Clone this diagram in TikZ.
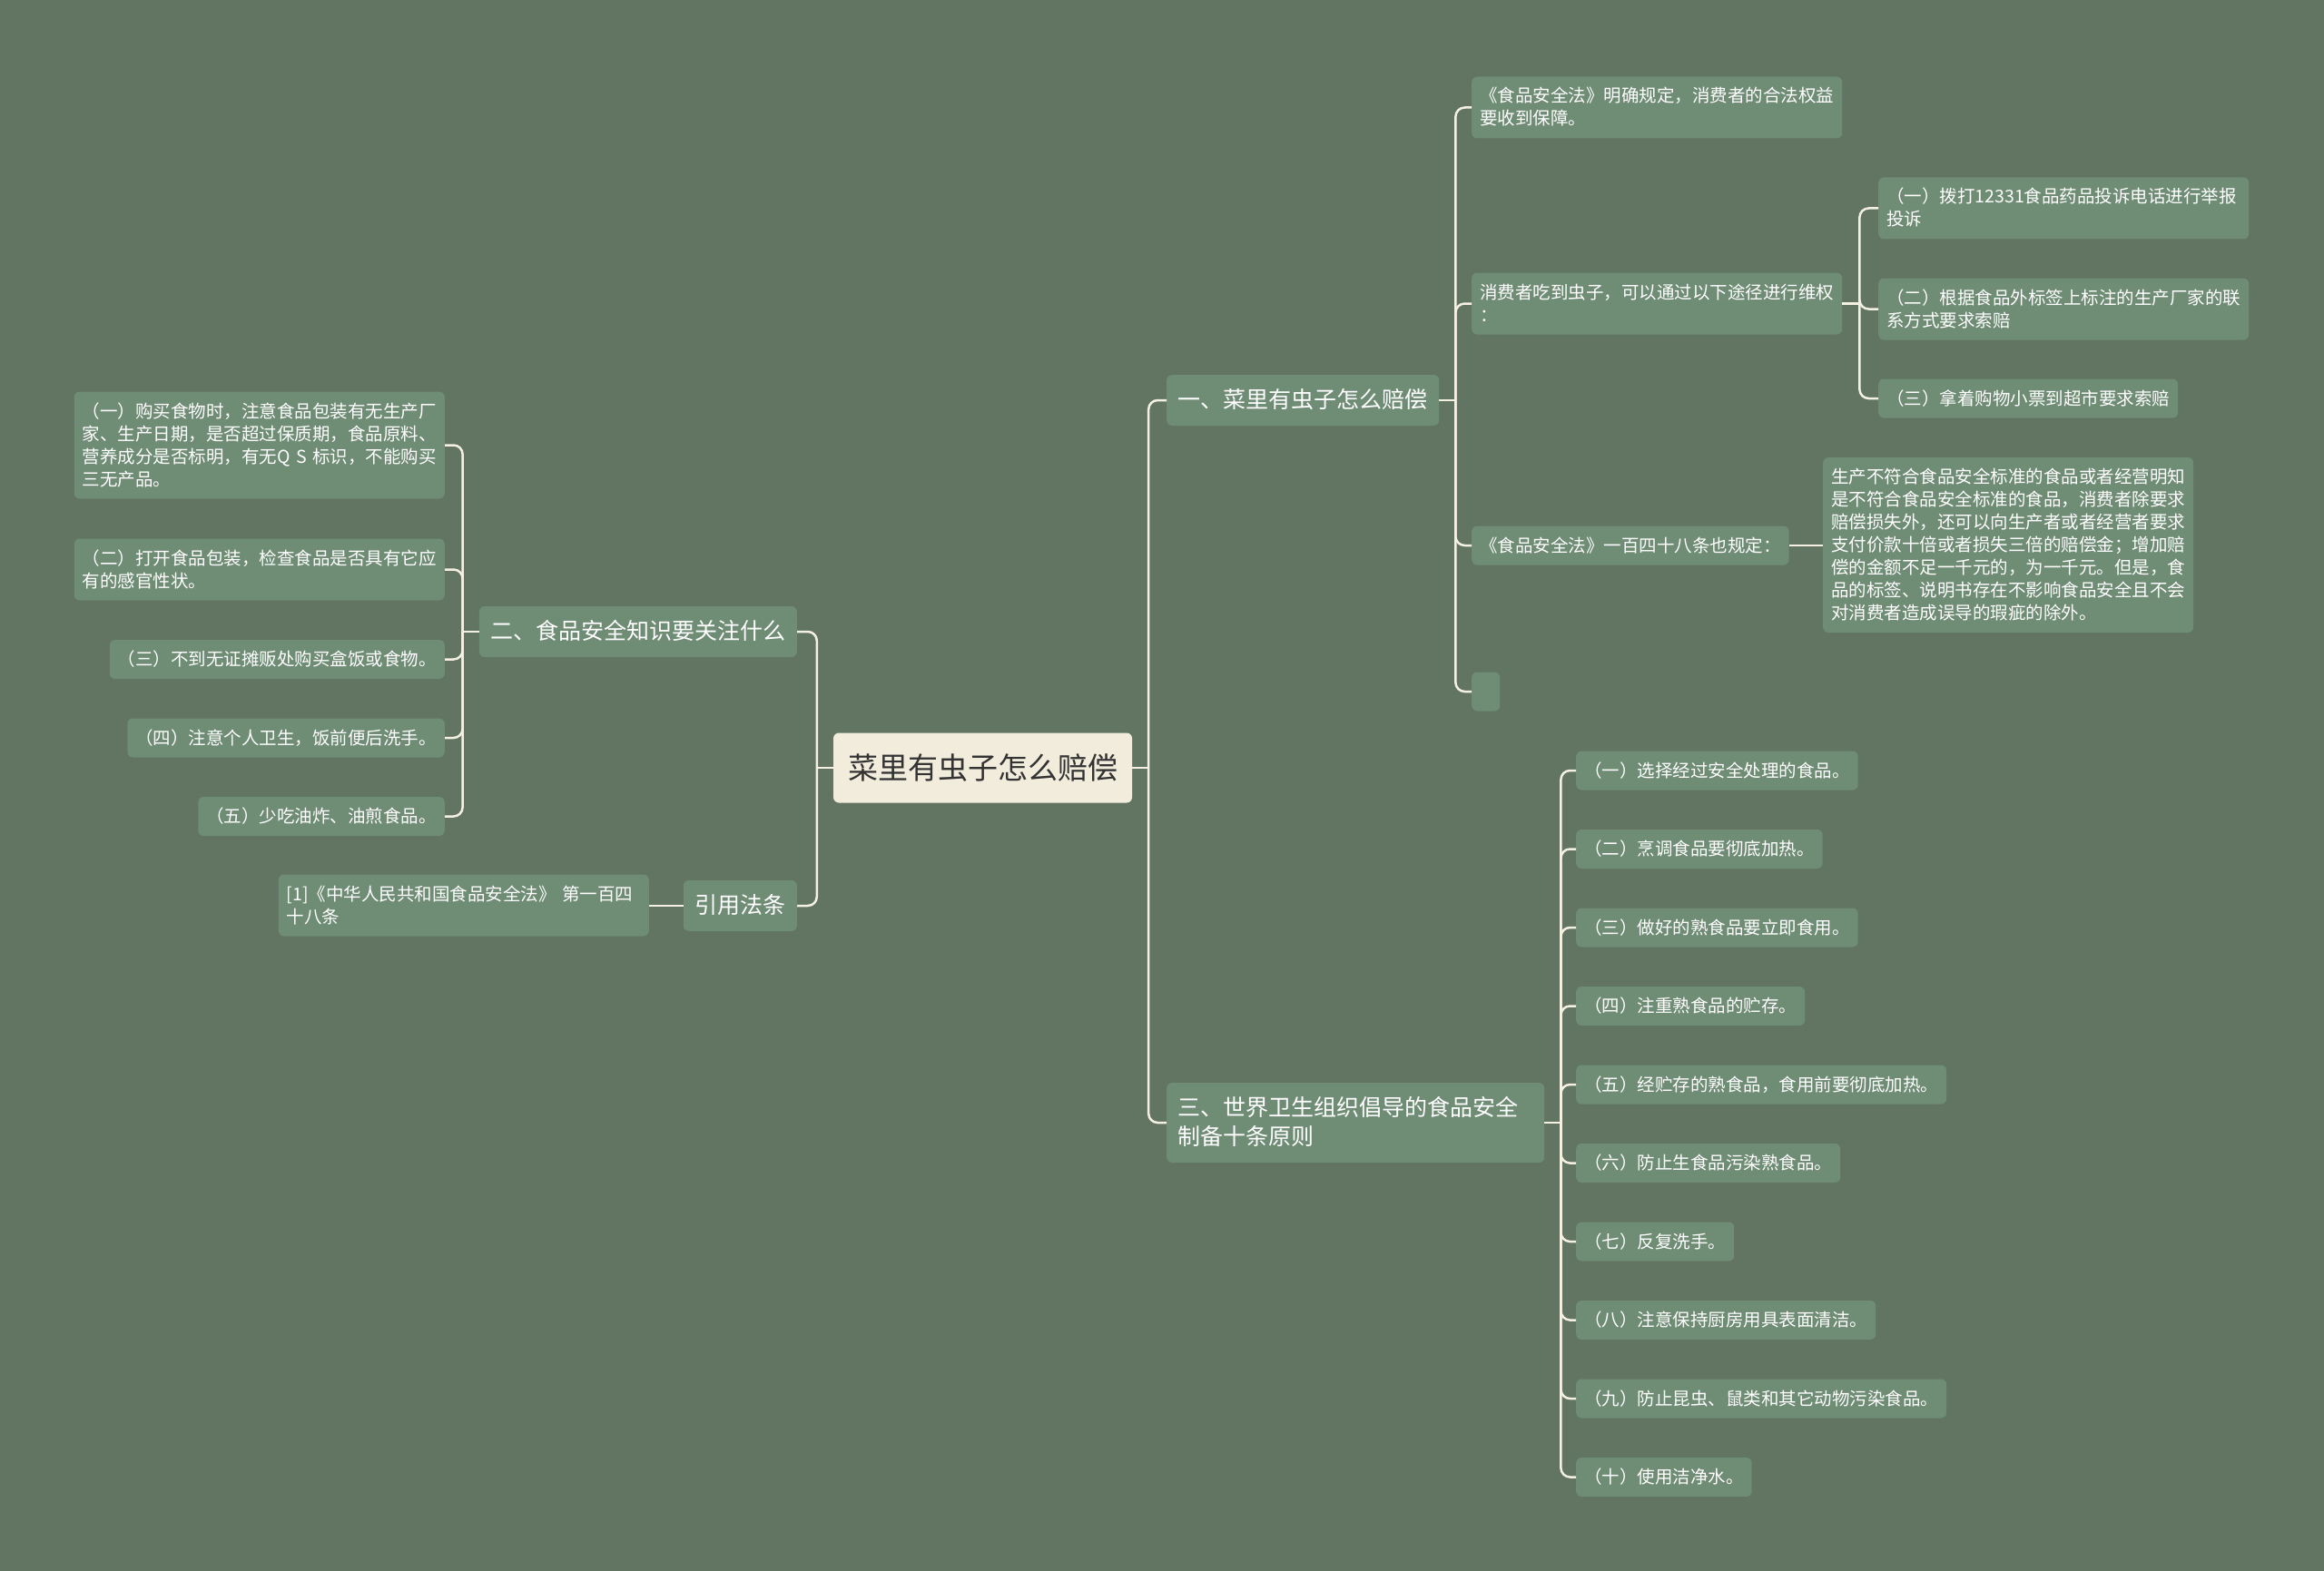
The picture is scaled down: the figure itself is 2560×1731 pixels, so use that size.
\documentclass[tikz,border=0pt]{standalone}
\usepackage{fontspec}
\newfontfamily\cjk{Noto Sans CJK SC}
\definecolor{bg}{HTML}{617562}
\definecolor{boxfill}{HTML}{6F8C75}
\definecolor{rootfill}{HTML}{F1ECDC}
\definecolor{roottext}{HTML}{333333}
\definecolor{linecol}{HTML}{F4F0E2}
\newcommand\vstrut{\rule[-0.22\baselineskip]{0pt}{\baselineskip}}

\begin{document}
\begin{tikzpicture}[x=1pt, y=-1pt,
  root/.style={fill=rootfill, text=roottext, rounded corners=6pt, inner xsep=16pt, inner ysep=17pt,
    font=\cjk\fontsize{33}{43}\selectfont, execute at begin node=\vstrut, execute at end node=\vstrut},
  topic/.style={fill=boxfill, text=white, rounded corners=6pt, inner xsep=12.5pt, inner ysep=12pt,
    font=\cjk\fontsize{25}{32}\selectfont, execute at begin node=\vstrut, execute at end node=\vstrut},
  leaf/.style={fill=boxfill, text=white, rounded corners=6pt, inner xsep=9pt, inner ysep=9pt,
    font=\cjk\fontsize{19.5}{25}\selectfont, execute at begin node=\vstrut, execute at end node=\vstrut},
  wide/.style={text width=390pt, align=left},
  link/.style={draw=linecol, line width=2.5pt, rounded corners=10pt}]
\fill[bg] (0,0) rectangle (2560,1731);
\useasboundingbox (0,0) rectangle (2560,1731);

% centre and main topics
\node[root] (R) at (1082.5,846) {菜里有虫子怎么赔偿};
\node[topic, anchor=west] (T1) at (1285,441) {一、菜里有虫子怎么赔偿};
\node[topic, anchor=west, text width=391pt, align=left] (T3) at (1285,1237) {三、世界卫生组织倡导的食品安全\\制备十条原则};
\node[topic, anchor=east] (T2) at (878,696) {二、食品安全知识要关注什么};
\node[topic, anchor=east] (T4) at (878,998) {引用法条};

% topic one
\node[leaf, wide, anchor=west] (A1) at (1621,118.5) {《食品安全法》明确规定，消费者的合法权益\\要收到保障。};
\node[leaf, wide, anchor=west] (A2) at (1621,334.5) {消费者吃到虫子，可以通过以下途径进行维权\\：};
\node[leaf, anchor=west] (A3) at (1621,601) {《食品安全法》一百四十八条也规定：};
\node[leaf, anchor=west, minimum width=31pt] (A4) at (1621,762) {};
\node[leaf, wide, anchor=west] (B1) at (2069,229.5) {（一）拨打12331食品药品投诉电话进行举报\\投诉};
\node[leaf, wide, anchor=west] (B2) at (2069,340.5) {（二）根据食品外标签上标注的生产厂家的联\\系方式要求索赔};
\node[leaf, anchor=west] (B3) at (2069,439) {（三）拿着购物小票到超市要求索赔};
\node[leaf, wide, anchor=west] (C1) at (2008,600.5) {生产不符合食品安全标准的食品或者经营明知\\是不符合食品安全标准的食品，消费者除要求\\赔偿损失外，还可以向生产者或者经营者要求\\支付价款十倍或者损失三倍的赔偿金；增加赔\\偿的金额不足一千元的，为一千元。但是，食\\品的标签、说明书存在不影响食品安全且不会\\对消费者造成误导的瑕疵的除外。};

% topic two
\node[leaf, wide, anchor=east] (L1) at (490,490.5) {（一）购买食物时，注意食品包装有无生产厂\\家、生产日期，是否超过保质期，食品原料、\\营养成分是否标明，有无Q~S~标识，不能购买\\三无产品。};
\node[leaf, wide, anchor=east] (L2) at (490,627.5) {（二）打开食品包装，检查食品是否具有它应\\有的感官性状。};
\node[leaf, anchor=east] (L3) at (490,726.5) {（三）不到无证摊贩处购买盒饭或食物。};
\node[leaf, anchor=east] (L4) at (490,813) {（四）注意个人卫生，饭前便后洗手。};
\node[leaf, anchor=east] (L5) at (490,899.5) {（五）少吃油炸、油煎食品。};
\node[leaf, wide, anchor=east] (F1) at (715,997.5) {[1]《中华人民共和国食品安全法》~第一百四\\十八条};

% topic three
\foreach \t [count=\i] in {（一）选择经过安全处理的食品。, （二）烹调食品要彻底加热。, （三）做好的熟食品要立即食用。,
  （四）注重熟食品的贮存。, （五）经贮存的熟食品，食用前要彻底加热。, （六）防止生食品污染熟食品。,
  （七）反复洗手。, （八）注意保持厨房用具表面清洁。, （九）防止昆虫、鼠类和其它动物污染食品。, （十）使用洁净水。}
  \node[leaf, anchor=west] (W\i) at (1736,{849+(\i-1)*86.5}) {\t};

% connectors
\draw[link] (R.east) -- ++(18,0) coordinate (JR);
\draw[link] (JR) |- (T1.west);
\draw[link] (JR) |- (T3.west);
\draw[link] (R.west) -- ++(-18,0) coordinate (JL);
\draw[link] (JL) |- (T2.east);
\draw[link] (JL) |- (T4.east);

\draw[link] (T1.east) -- ++(18,0) coordinate (J1);
\foreach \n in {A1,A2,A3,A4} \draw[link] (J1) |- (\n.west);
\draw[link] (A2.east) -- ++(19,0) coordinate (J2);
\foreach \n in {B1,B2,B3} \draw[link] (J2) |- (\n.west);
\draw[link] (A3.east) -- (A3.east -| C1.west);

\draw[link] (T2.west) -- ++(-18,0) coordinate (J4);
\foreach \n in {L1,L2,L3,L4,L5} \draw[link] (J4) |- (\n.east);
\draw[link] (T4.west) -- (T4.west -| F1.east);

\draw[link] (T3.east) -- ++(18,0) coordinate (J3);
\foreach \i in {1,...,10} \draw[link] (J3) |- (W\i.west);
\end{tikzpicture}
\end{document}
